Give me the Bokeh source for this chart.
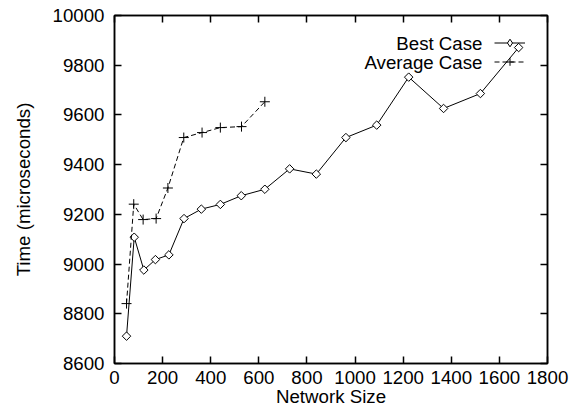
from bokeh.plotting import figure
from bokeh.models import Range1d, FixedTicker, LinearAxis, Legend, LegendItem, Label
from bokeh.embed import file_html
from bokeh.resources import INLINE

# ---- data ----
best_x = [50, 82, 122, 170, 226, 289, 361, 440, 527, 625, 728, 839, 962, 1090, 1223, 1368, 1521, 1680]
best_y = [8710, 9108, 8976, 9018, 9037, 9183, 9221, 9240, 9275, 9301, 9383, 9362, 9509, 9559, 9752, 9626, 9686, 9871]
avg_x = [50, 80, 119, 173, 222, 288, 364, 440, 528, 625]
avg_y = [8841, 9241, 9179, 9183, 9306, 9509, 9529, 9549, 9553, 9653]
x_ticks = [0, 200, 400, 600, 800, 1000, 1200, 1400, 1600, 1800]
y_ticks = [8600, 8800, 9000, 9200, 9400, 9600, 9800, 10000]
series_names = ["Best Case", "Average Case"]
x_title = "Network Size"
y_title = "Time (microseconds)"

FONT = "Liberation Sans"
FS = "18.7px"

p = figure(width=569, height=411, output_backend="svg", toolbar_location=None,
           x_range=Range1d(0, 1800), y_range=Range1d(8600, 10000),
           min_border_left=114, min_border_right=22, min_border_top=15, min_border_bottom=48)
p.xgrid.visible = False
p.ygrid.visible = False
p.background_fill_color = "white"
p.border_fill_color = "white"
p.outline_line_color = "black"
p.outline_line_width = 1.5

def style_axis(ax, ticks, labels=True):
    ax.ticker = FixedTicker(ticks=ticks)
    ax.major_tick_in = 7
    ax.major_tick_out = 0
    ax.minor_tick_line_color = None
    ax.major_tick_line_color = "black"
    ax.major_tick_line_width = 1.5
    ax.axis_line_color = "black"
    ax.axis_line_width = 1.5
    ax.major_label_text_font = FONT
    if labels:
        ax.major_label_text_font_size = FS
        ax.major_label_text_color = "black"
    else:
        ax.major_label_text_font_size = "1px"
        ax.major_label_text_color = None
        ax.major_label_standoff = 0

xa = p.xaxis[0]
ya = p.yaxis[0]
style_axis(xa, x_ticks)
style_axis(ya, y_ticks)
xa.major_label_standoff = 7
ya.major_label_standoff = 10
xa.axis_label = x_title
ya.axis_label = y_title
for ax in (xa, ya):
    ax.axis_label_text_font = FONT
    ax.axis_label_text_font_size = FS
    ax.axis_label_text_font_style = "normal"
    ax.axis_label_text_color = "black"
xa.axis_label_standoff = -1
ya.axis_label_standoff = 16

top = LinearAxis()
style_axis(top, x_ticks, labels=False)
p.add_layout(top, "above")
right = LinearAxis()
style_axis(right, y_ticks, labels=False)
p.add_layout(right, "right")

# ---- series ----
l1 = p.line(best_x, best_y, line_color="black", line_width=1)
m1 = p.scatter(best_x, best_y, marker="square", angle=0.785398, size=6,
               fill_color="white", line_color="black", line_width=1)
l2 = p.line(avg_x, avg_y, line_color="black", line_width=1, line_dash="5 3")
m2 = p.scatter(avg_x, avg_y, marker="cross", size=10, line_color="black", line_width=1)

# key sample for the diamond (legend does not rotate markers); hidden on the plot
k1 = p.scatter(best_x, best_y, marker="diamond", size=9, fill_color="white",
               line_color="black", line_width=1, visible=False)

# ---- gnuplot-style key: text right-aligned, sample on the right ----
legend = Legend(items=[LegendItem(label=" ", renderers=[l1, k1]),
                       LegendItem(label=" ", renderers=[l2, m2])],
                location=(380, 292), glyph_width=31, glyph_height=19,
                label_width=0, label_height=19, label_standoff=0,
                label_text_font_size="1px", padding=0, margin=0, spacing=0,
                background_fill_alpha=0, border_line_color=None)
p.add_layout(legend)

for name, yy in zip(series_names, [320, 301]):
    p.add_layout(Label(x=368, y=yy, x_units="screen", y_units="screen", text=name,
                       text_align="right", text_baseline="middle",
                       text_font=FONT, text_font_size=FS, text_color="black"))

open("out.html", "w").write(file_html(p, INLINE))
